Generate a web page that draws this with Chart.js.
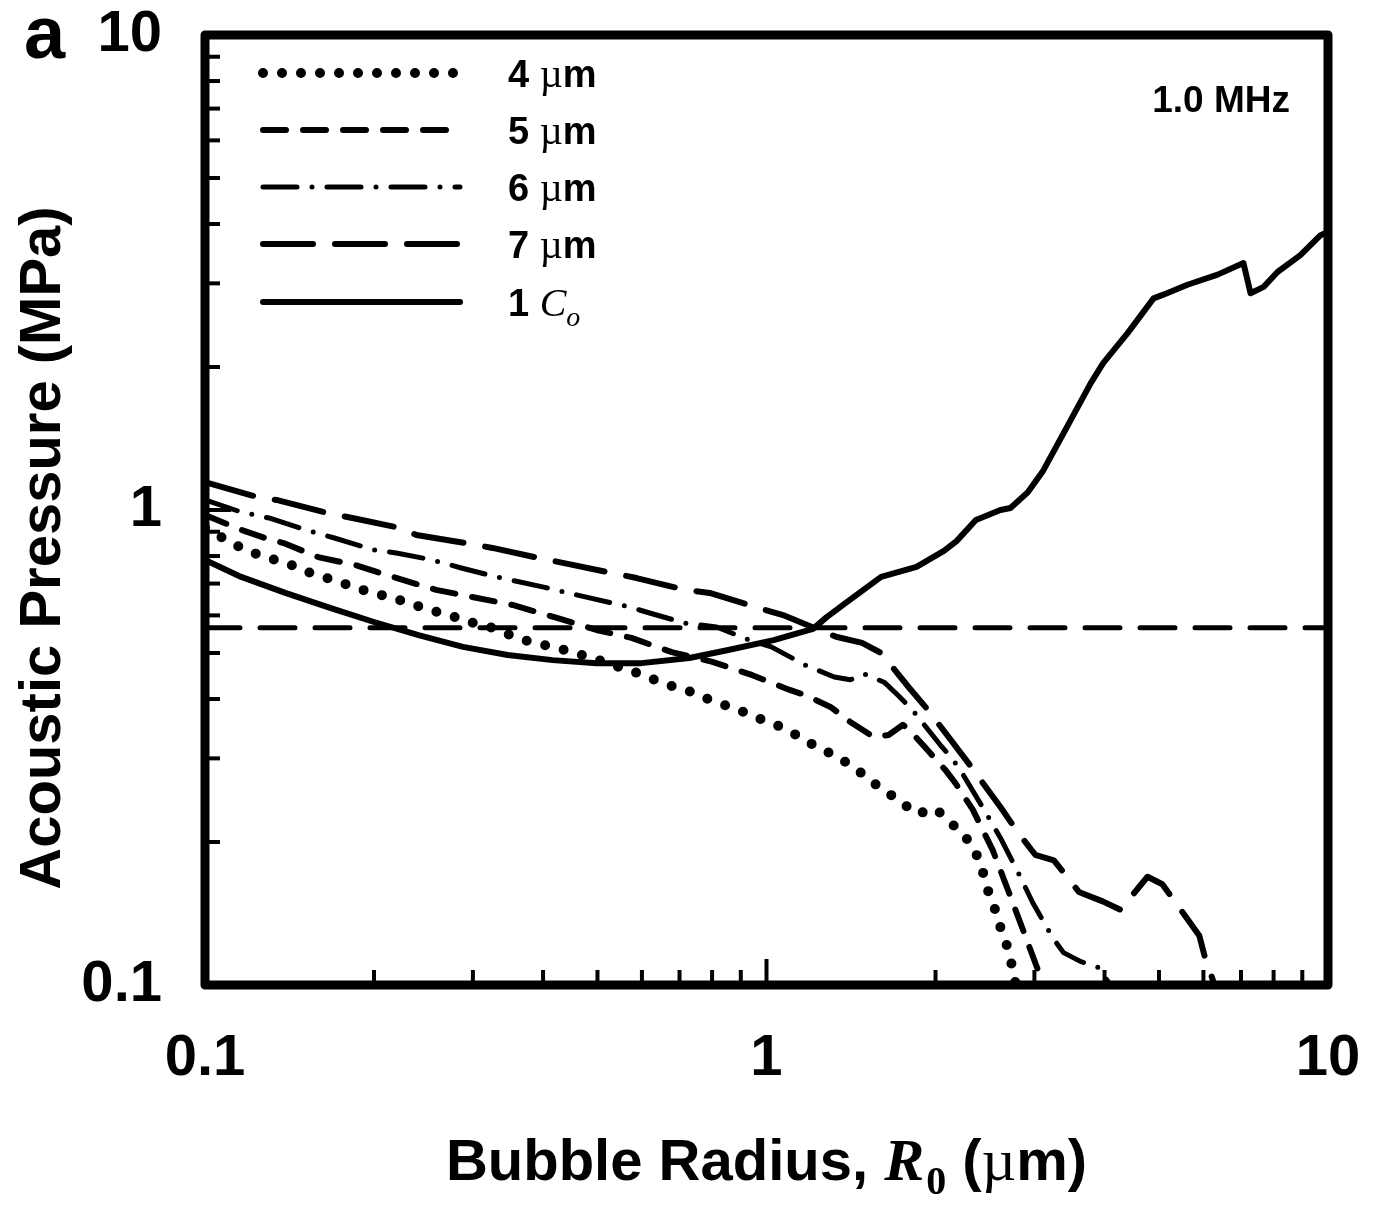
<!DOCTYPE html>
<html>
<head>
<meta charset="utf-8">
<script src="https://cdn.jsdelivr.net/npm/chart.js@4.4.1/dist/chart.umd.min.js"></script>
<style>
  html, body { margin: 0; padding: 0; background: #fff; }
  canvas { display: block; }
</style>
</head>
<body>
<canvas id="pressureCanvas" width="1378" height="1205"></canvas>
<script>
// bubble radius R0 (um) vs acoustic pressure (MPa)
var r4 = [0.100,0.109,0.118,0.128,0.140,0.152,0.165,0.180,0.196,0.213,0.231,0.251,0.272,0.296,0.322,0.350,0.380,0.416,0.451,0.490,0.532,0.582,0.632,0.686,0.745,0.808,0.877,0.952,1.04,1.13,1.23,1.34,1.46,1.58,1.72,1.85,2.00,2.17,2.31,2.41,2.46,2.54,2.60,2.68,2.73,2.78];
var p4 = [0.917,0.865,0.824,0.796,0.773,0.741,0.719,0.695,0.672,0.656,0.637,0.616,0.601,0.581,0.567,0.545,0.527,0.515,0.502,0.488,0.472,0.456,0.439,0.424,0.412,0.394,0.383,0.367,0.353,0.336,0.317,0.302,0.282,0.262,0.245,0.229,0.235,0.215,0.199,0.180,0.162,0.147,0.134,0.121,0.111,0.100];

var r5 = [0.100,0.116,0.128,0.138,0.159,0.185,0.216,0.258,0.299,0.353,0.419,0.498,0.575,0.678,0.801,0.944,1.10,1.17,1.30,1.41,1.55,1.65,1.75,1.81,1.90,2.08,2.17,2.33,2.53,2.70,2.86,3.04,3.08];
var p5 = [0.976,0.908,0.873,0.852,0.796,0.766,0.723,0.679,0.656,0.631,0.595,0.559,0.538,0.502,0.479,0.449,0.418,0.408,0.385,0.358,0.333,0.336,0.353,0.341,0.320,0.284,0.266,0.234,0.192,0.157,0.131,0.108,0.100];

var r6 = [0.100,0.116,0.130,0.151,0.170,0.200,0.219,0.254,0.286,0.330,0.401,0.484,0.570,0.619,0.715,0.815,0.933,1.02,1.17,1.32,1.41,1.49,1.62,1.72,1.82,2.04,2.15,2.24,2.44,2.61,2.81,2.98,3.23,3.38,3.63,3.89,4.05,4.10];
var p6 = [1.050,0.990,0.962,0.908,0.873,0.824,0.812,0.785,0.755,0.723,0.688,0.653,0.625,0.607,0.578,0.567,0.532,0.515,0.472,0.445,0.439,0.452,0.434,0.406,0.379,0.320,0.298,0.277,0.234,0.204,0.172,0.149,0.126,0.117,0.112,0.109,0.102,0.099];

var r7 = [0.100,0.124,0.134,0.165,0.183,0.222,0.238,0.291,0.325,0.394,0.436,0.530,0.587,0.717,0.792,0.968,1.07,1.33,1.48,1.60,1.79,1.94,2.28,2.43,2.61,2.80,3.01,3.25,3.60,3.97,4.27,4.77,5.07,5.90,6.03,6.28];
var p7 = [1.145,1.065,1.050,0.986,0.962,0.917,0.886,0.852,0.832,0.792,0.773,0.737,0.719,0.679,0.669,0.622,0.601,0.541,0.525,0.500,0.424,0.379,0.295,0.266,0.237,0.210,0.188,0.183,0.157,0.150,0.144,0.169,0.163,0.127,0.115,0.100];

// 1 Co curve
var rC = [0.100,0.116,0.139,0.167,0.200,0.240,0.288,0.346,0.416,0.498,0.599,0.729,0.859,1.03,1.21,1.28,1.39,1.60,1.85,2.07,2.18,2.36,2.61,2.72,2.92,3.11,3.38,3.78,3.98,4.40,4.89,5.09,5.62,6.36,7.07,7.28,7.68,8.13,8.93,9.70,10.0];
var pC = [0.785,0.723,0.669,0.622,0.581,0.545,0.515,0.495,0.483,0.476,0.476,0.488,0.508,0.532,0.562,0.595,0.640,0.723,0.759,0.820,0.860,0.953,1.00,1.01,1.09,1.21,1.45,1.85,2.04,2.36,2.79,2.84,2.98,3.13,3.31,2.86,2.95,3.17,3.44,3.79,3.85];

// horizontal reference line
var refR = [0.1, 10];
var refP = [0.565, 0.565];

var seriesNames = ['4 \u00b5m', '5 \u00b5m', '6 \u00b5m', '7 \u00b5m', '1 Co'];

// axis ticks (log), only decades get a label
var xTickValues = [0.1,0.2,0.3,0.4,0.5,0.6,0.7,0.8,0.9,1,2,3,4,5,6,7,8,9,10];
var yTickValues = [0.1,0.2,0.3,0.4,0.5,0.6,0.7,0.8,0.9,1,2,3,4,5,6,7,8,9,10];
var decades = [0.1, 1, 10];
var decadeLabels = ['0.1', '1', '10'];

var SANS = '"Liberation Sans", Arial, sans-serif';
var SERIF = '"Liberation Serif", "Times New Roman", serif';

function toPoints(xs, ys) {
	var pts = [];
	for (var i = 0; i < xs.length; i++) {
		pts.push({x: xs[i], y: ys[i]});
	}
	return pts;
}

function decadeIndex(v) {
	for (var i = 0; i < decades.length; i++) {
		if (Math.abs(decades[i] - v) < 1e-9) return i;
	}
	return -1;
}

function tickLabel(value) {
	var i = decadeIndex(value);
	return i >= 0 ? decadeLabels[i] : '';
}

// labels may overhang the plot box, keep the box where it is
function noOverhang(scale) {
	scale.paddingTop = 0;
	scale.paddingBottom = 0;
	scale.paddingLeft = 0;
	scale.paddingRight = 0;
}

// write a row of text pieces with different fonts
function drawParts(ctx, parts, x, y, align) {
	var total = 0;
	parts.forEach(function(p) {
		ctx.font = p.font;
		p.w = ctx.measureText(p.text).width + (p.kern || 0);
		total += p.w;
	});
	var cx = align === 'center' ? x - total / 2 : x;
	parts.forEach(function(p) {
		ctx.font = p.font;
		ctx.fillText(p.text, cx, y + (p.dy || 0));
		cx += p.w;
	});
}

var lineStyle = {
	showLine: true,
	pointRadius: 0,
	borderColor: '#000',
	backgroundColor: '#000',
	fill: false,
	tension: 0,
	borderCapStyle: 'round',
	borderJoinStyle: 'round'
};

var chartdata = {
	datasets: [
		Object.assign({}, lineStyle, {label: seriesNames[0], data: toPoints(r4, p4), borderWidth: 10, borderDash: [0, 19]}),
		Object.assign({}, lineStyle, {label: seriesNames[1], data: toPoints(r5, p5), borderWidth: 6, borderDash: [23, 17]}),
		Object.assign({}, lineStyle, {label: seriesNames[2], data: toPoints(r6, p6), borderWidth: 5, borderDash: [34, 15, 0, 15]}),
		Object.assign({}, lineStyle, {label: seriesNames[3], data: toPoints(r7, p7), borderWidth: 6, borderDash: [50, 22]}),
		Object.assign({}, lineStyle, {label: seriesNames[4], data: toPoints(rC, pC), borderWidth: 6, borderDash: []}),
		Object.assign({}, lineStyle, {label: 'ref', data: toPoints(refR, refP), borderWidth: 5, borderDash: [35, 20]})
	]
};

// frame, inward ticks, legend and titles
var decorations = {
	id: 'decorations',
	afterDatasetsDraw: function(chart) {
		var ctx = chart.ctx;
		var a = chart.chartArea;
		var xs = chart.scales.x;
		var ys = chart.scales.y;
		ctx.save();
		ctx.strokeStyle = '#000';
		ctx.lineCap = 'butt';
		ctx.lineWidth = 4;
		xs.ticks.forEach(function(t) {
			var px = xs.getPixelForValue(t.value);
			if (px <= a.left + 3 || px >= a.right - 3) return;
			var len = decadeIndex(t.value) >= 0 ? 26 : 15;
			ctx.beginPath();
			ctx.moveTo(px, a.bottom);
			ctx.lineTo(px, a.bottom - len);
			ctx.stroke();
		});
		ys.ticks.forEach(function(t) {
			var py = ys.getPixelForValue(t.value);
			if (py <= a.top + 3 || py >= a.bottom - 3) return;
			var len = decadeIndex(t.value) >= 0 ? 26 : 15;
			ctx.beginPath();
			ctx.moveTo(a.left, py);
			ctx.lineTo(a.left + len, py);
			ctx.stroke();
		});
		ctx.lineWidth = 9;
		ctx.lineJoin = 'round';
		ctx.strokeRect(a.left, a.top, a.right - a.left, a.bottom - a.top);
		ctx.restore();
	},
	afterDraw: function(chart) {
		var ctx = chart.ctx;
		var a = chart.chartArea;
		ctx.save();
		ctx.fillStyle = '#000';
		ctx.textBaseline = 'alphabetic';

		// legend
		var legendY = [73, 130, 187, 244, 302];
		for (var i = 0; i < 5; i++) {
			var ds = chart.data.datasets[i];
			ctx.strokeStyle = '#000';
			ctx.lineWidth = ds.borderWidth;
			ctx.lineCap = 'round';
			ctx.setLineDash(ds.borderDash);
			ctx.beginPath();
			ctx.moveTo(263, legendY[i]);
			ctx.lineTo(460, legendY[i]);
			ctx.stroke();
			ctx.setLineDash([]);
			var parts;
			if (i < 4) {
				var txt = seriesNames[i];
				parts = [
					{text: txt.slice(0, 2), font: 'bold 38px ' + SANS},
					{text: txt.slice(2, 3), font: '40px ' + SERIF},
					{text: txt.slice(3), font: 'bold 38px ' + SANS}
				];
			} else {
				parts = [
					{text: '1 ', font: 'bold 38px ' + SANS},
					{text: 'C', font: 'italic 40px ' + SERIF},
					{text: 'o', font: 'italic 28px ' + SERIF, dy: 10}
				];
			}
			drawParts(ctx, parts, 508, legendY[i] + 14, 'left');
		}

		// panel letter and frequency
		ctx.textAlign = 'left';
		ctx.font = 'bold 74px ' + SANS;
		ctx.fillText('a', 24, 58);
		ctx.font = 'bold 37px ' + SANS;
		ctx.textAlign = 'right';
		ctx.fillText('1.0 MHz', 1290, 112);
		ctx.textAlign = 'left';

		// x title
		drawParts(ctx, [
			{text: 'Bubble Radius, ', font: 'bold 58px ' + SANS},
			{text: 'R', font: 'italic bold 60px ' + SERIF, kern: 2},
			{text: '0', font: 'bold 40px ' + SERIF, dy: 14},
			{text: ' (', font: 'bold 58px ' + SANS},
			{text: '\u00b5', font: '60px ' + SERIF},
			{text: 'm)', font: 'bold 58px ' + SANS}
		], (a.left + a.right) / 2, 1180, 'center');

		// y title
		ctx.translate(44, 548);
		ctx.rotate(-Math.PI / 2);
		ctx.textAlign = 'center';
		ctx.textBaseline = 'middle';
		ctx.font = 'bold 58px ' + SANS;
		ctx.fillText('Acoustic Pressure (MPa)', 0, 0);
		ctx.restore();
	}
};

var ctx = document.getElementById('pressureCanvas').getContext('2d');
var pressureChart = new Chart(ctx, {
	type: 'scatter',
	data: chartdata,
	plugins: [decorations],
	options: {
		responsive: false,
		animation: false,
		devicePixelRatio: 1,
		layout: { padding: { top: 35, right: 50, left: 0, bottom: 0 } },
		plugins: {
			legend: { display: false },
			tooltip: { enabled: false }
		},
		scales: {
			x: {
				type: 'logarithmic',
				min: 0.1,
				max: 10,
				afterBuildTicks: function(scale) {
					scale.ticks = xTickValues.map(function(v) { return {value: v}; });
				},
				afterFit: function(scale) { scale.height = 220; noOverhang(scale); },
				grid: { display: false },
				border: { display: false },
				ticks: {
					callback: tickLabel,
					autoSkip: false,
					maxRotation: 0,
					padding: 31,
					color: '#000',
					font: { family: SANS, size: 58, weight: 'bold' }
				}
			},
			y: {
				type: 'logarithmic',
				min: 0.1,
				max: 10,
				afterBuildTicks: function(scale) {
					scale.ticks = yTickValues.map(function(v) { return {value: v}; });
				},
				afterFit: function(scale) { scale.width = 205; noOverhang(scale); },
				grid: { display: false },
				border: { display: false },
				ticks: {
					callback: tickLabel,
					autoSkip: false,
					padding: 35,
					color: '#000',
					font: { family: SANS, size: 58, weight: 'bold' }
				}
			}
		}
	}
});
</script>
</body>
</html>
